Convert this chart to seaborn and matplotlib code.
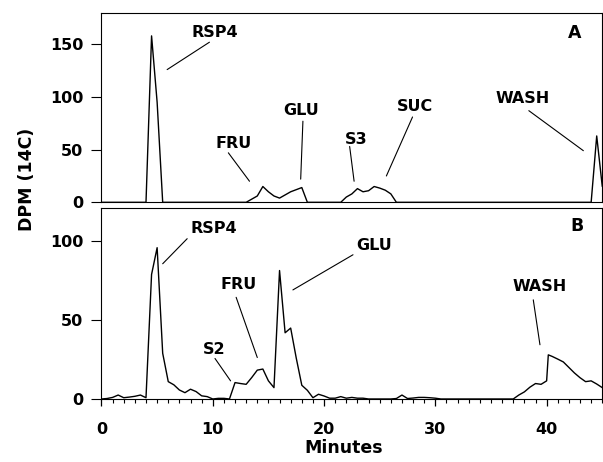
"""
DPM (14C) chromatogram traces, panels A and B
"""

import numpy as np
import pandas as pd
import matplotlib
matplotlib.use("Agg")
import matplotlib.pyplot as plt
import seaborn as sns
from matplotlib.ticker import MultipleLocator

# Panel A: minutes / DPM
a_minutes = [0, 4.0, 4.5, 5.0, 5.5, 13.0, 13.5, 14.0, 14.5, 15.0, 15.5, 16.0,
             16.5, 17.0, 17.5, 18.0, 18.5, 21.5, 22.0, 22.5, 23.0, 23.5, 24.0,
             24.5, 25.0, 25.5, 26.0, 26.5, 44.0, 44.5, 45.0]
a_dpm = [0, 0, 158, 95, 0, 0, 3, 6, 15, 10, 6, 4,
         7, 10, 12, 14, 0, 0, 5, 8, 13, 10, 11,
         15, 13.5, 11.5, 8, 0, 0, 63, 15]

# Panel B: minutes / DPM
b_minutes = [0.0, 0.5, 1.0, 1.5, 2.0, 2.5, 3.0, 3.5, 4.0, 4.5, 5.0, 5.5,
             6.0, 6.5, 7.0, 7.5, 8.0, 8.5, 9.0, 9.5, 10.0, 10.5, 11.0, 11.5,
             12.0, 12.5, 13.0, 13.5, 14.0, 14.5, 15.0, 15.5, 16.0, 16.5, 17.0,
             17.5, 18.0, 18.5, 19.0, 19.5, 20.0, 20.5, 21.0, 21.5, 22.0, 22.5,
             23.0, 23.5, 24.0, 26.0, 26.5, 27.0, 27.5, 28.0, 28.5, 29.0, 29.5,
             30.0, 30.5, 37.0, 37.5, 38.0, 38.5, 39.0, 39.5, 40.0, 40.15, 40.5,
             41.0, 41.5, 42.0, 42.5, 43.0, 43.5, 44.0, 44.5, 45.0]
b_dpm = [0, 0.3, 1.0, 2.5, 0.8, 1.2, 1.7, 2.5, 0.8, 79, 96, 29,
         11, 9, 5.7, 4, 6.2, 4.7, 2, 1.5, 0, 0.4, 0.4, 0,
         10.4, 9.8, 9.3, 13.6, 18.3, 19, 11.5, 7.2, 81.5, 42, 45,
         26, 8.7, 5.5, 0.8, 3, 1.9, 0.5, 0.5, 1.5, 0.5, 1.0,
         0.5, 0.5, 0, 0, 0.3, 2.5, 0.3, 0.6, 1.0, 1.0, 0.8,
         0.5, 0, 0, 2.5, 4.5, 7.5, 9.8, 9.3, 11.5, 28, 27,
         25.3, 23.5, 20, 16.5, 13.5, 11, 11.5, 9.5, 7.2]

a_labels = ["RSP4", "FRU", "GLU", "S3", "SUC", "WASH"]
b_labels = ["RSP4", "FRU", "S2", "GLU", "WASH"]

sns.set_style("ticks")
plt.rcParams["font.family"] = ["DejaVu Sans"]
plt.rcParams["font.weight"] = "bold"
plt.rcParams["axes.linewidth"] = 0.8
plt.rcParams["text.color"] = "black"
plt.rcParams["xtick.color"] = "black"
plt.rcParams["ytick.color"] = "black"
plt.rcParams["axes.edgecolor"] = "black"
plt.rcParams["xtick.bottom"] = True
plt.rcParams["xtick.minor.visible"] = True

fig = plt.figure(figsize=(6.03, 4.62), dpi=100)
ax_a = fig.add_axes([0.1683, 0.5621, 0.8305, 0.4104])
ax_b = fig.add_axes([0.1683, 0.1364, 0.8305, 0.4128])

df_a = pd.DataFrame({"Minutes": a_minutes, "DPM": a_dpm})
df_b = pd.DataFrame({"Minutes": b_minutes, "DPM": b_dpm})

sns.lineplot(data=df_a, x="Minutes", y="DPM", ax=ax_a, color="black",
             linewidth=1.0, estimator=None)
sns.lineplot(data=df_b, x="Minutes", y="DPM", ax=ax_b, color="black",
             linewidth=1.0, estimator=None)

for ax in (ax_a, ax_b):
    ax.set_xlim(0, 45)
    for s in ax.spines.values():
        s.set_visible(True)
        s.set_linewidth(0.8)
        s.set_color("black")
    ax.set_xlabel("")
    ax.set_ylabel("")
    ax.tick_params(axis="y", which="major", direction="out", length=7,
                   width=0.8, pad=6, labelsize=11.5, colors="black")
    ax.tick_params(axis="y", which="minor", left=False)

ax_a.set_ylim(0, 180)
ax_a.yaxis.set_major_locator(MultipleLocator(50))
ax_a.tick_params(axis="x", which="both", bottom=False, labelbottom=False)

ax_b.set_ylim(0, 121)
ax_b.yaxis.set_major_locator(MultipleLocator(50))
ax_b.xaxis.set_major_locator(MultipleLocator(10))
ax_b.xaxis.set_minor_locator(MultipleLocator(1))
ax_b.tick_params(axis="x", which="major", direction="out", length=5,
                 width=0.9, pad=11.5, labelsize=11.5, colors="black",
                 bottom=True)
ax_b.tick_params(axis="x", which="minor", direction="out", length=2.8,
                 width=0.8, colors="black", bottom=True)
for lab in ax_b.get_xticklabels() + ax_b.get_yticklabels():
    lab.set_fontweight("bold")
for lab in ax_a.get_yticklabels():
    lab.set_fontweight("bold")

# peak labels: (text x, text y, line start, line end)
a_pos = [(10.2, 161, (9.7, 152), (5.9, 126)),
         (11.9, 56, (11.4, 47), (13.3, 20)),
         (17.9, 87, (18.1, 77), (17.9, 22)),
         (22.9, 60, (22.3, 53), (22.7, 20)),
         (28.2, 91, (27.95, 81), (25.6, 25)),
         (37.8, 99, (38.4, 87), (43.3, 49))]
b_pos = [(10.1, 108, (7.7, 101.7), (5.5, 85.8)),
         (12.3, 72.6, (12.1, 64.5), (14.0, 26.3)),
         (10.1, 31.2, (10.2, 25.7), (11.6, 11.5)),
         (24.5, 97.5, (22.6, 91.5), (17.2, 69.2)),
         (39.4, 71.3, (38.8, 62.9), (39.4, 34.4))]

for ax, labels, pos in ((ax_a, a_labels, a_pos), (ax_b, b_labels, b_pos)):
    for lab, (tx, ty, p0, p1) in zip(labels, pos):
        ax.text(tx, ty, lab, ha="center", va="center", fontsize=11.5,
                fontweight="bold")
        ax.annotate("", xy=p1, xytext=p0,
                    arrowprops=dict(arrowstyle="-", lw=0.8, color="black",
                                    shrinkA=0, shrinkB=0))

ax_a.text(42.5, 161, "A", ha="center", va="center", fontsize=12.5,
          fontweight="bold")
ax_b.text(42.7, 110, "B", ha="center", va="center", fontsize=12.5,
          fontweight="bold")

fig.text(27 / 603, 1 - 179 / 462, "DPM (14C)", rotation=90, ha="center",
         va="center", fontsize=12.5, fontweight="bold")
fig.text(344 / 603, 1 - 448 / 462, "Minutes", ha="center", va="center",
         fontsize=12.5, fontweight="bold")

plt.savefig("out.png", dpi=100)
